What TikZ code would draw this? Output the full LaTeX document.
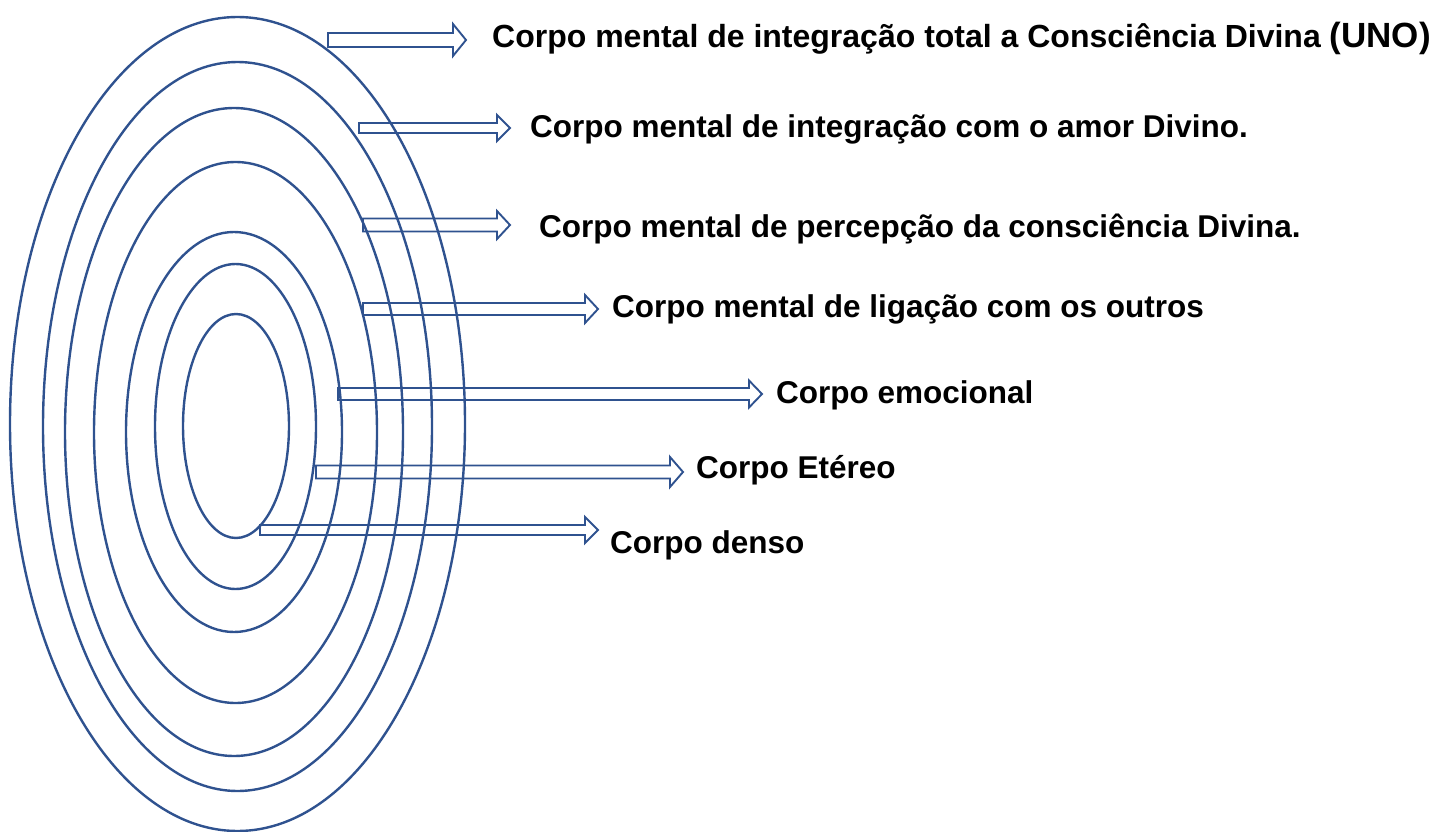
\documentclass[tikz,border=0pt]{standalone}
\usepackage{fontspec}
\setmainfont{Liberation Sans}
\usetikzlibrary{calc}
\definecolor{ringblue}{RGB}{47,82,143}
\begin{document}
\begin{tikzpicture}[x=1pt, y=-1pt]
\tikzset{ring/.style={draw=ringblue, line width=2.4pt}}
\tikzset{body/.style={font=\fontsize{31.5}{36}\selectfont\bfseries, inner sep=0pt, anchor=base west}}
\tikzset{blockarrow/.style 2 args={draw=ringblue, line width=1.9pt,
  to path={let \p1=(\tikztostart), \p2=(\tikztotarget) in
  (\x1,\y1+#1) -- (\x2-13pt,\y1+#1) -- (\x2-13pt,\y1+#2) -- (\x2,\y1)
  -- (\x2-13pt,\y1-#2) -- (\x2-13pt,\y1-#1) -- (\x1,\y1-#1) -- cycle}}}
\useasboundingbox (0,0) rectangle (1442,832);
\foreach \cx/\cy/\rx/\ry in {237.5/424/227.5/407, 237.5/426.5/194.5/364.5,
  234/432/169/324, 235.5/432.5/141.5/270.5, 234/432/108/200,
  235.5/426.5/80.5/162.5, 236/426/53/112}
  \draw[ring] (\cx,\cy) ellipse [x radius=\rx pt, y radius=\ry pt];
\coordinate (uno-s) at (328,40);
\coordinate (uno-e) at (466,40);
\coordinate (amor-s) at (359,128);
\coordinate (amor-e) at (510,128);
\coordinate (percepcao-s) at (363,225);
\coordinate (percepcao-e) at (510,225);
\coordinate (ligacao-s) at (363,309);
\coordinate (ligacao-e) at (598,309);
\coordinate (emocional-s) at (338,394);
\coordinate (emocional-e) at (762,394);
\coordinate (etereo-s) at (316,472);
\coordinate (etereo-e) at (683,472);
\coordinate (denso-s) at (260,530);
\coordinate (denso-e) at (598,530);
\draw[blockarrow={7pt}{16pt}] (uno-s) to (uno-e);
\draw[blockarrow={5pt}{13pt}] (amor-s) to (amor-e);
\draw[blockarrow={6.5pt}{14pt}] (percepcao-s) to (percepcao-e);
\draw[blockarrow={6pt}{14pt}] (ligacao-s) to (ligacao-e);
\draw[blockarrow={6pt}{13.5pt}] (emocional-s) to (emocional-e);
\draw[blockarrow={6.5pt}{15pt}] (etereo-s) to (etereo-e);
\draw[blockarrow={5pt}{13pt}] (denso-s) to (denso-e);
\node[body, font=\fontsize{32}{36}\selectfont\bfseries] (uno) at (492,48) {Corpo mental de integração total a Consciência Divina {\fontsize{35}{40}\selectfont(UNO)}};
\node[body] (amor) at (530,138) {Corpo mental de integração com o amor Divino.};
\node[body] (percepcao) at (539,237) {Corpo mental de percepção da consciência Divina.};
\node[body] (ligacao) at (612,317) {Corpo mental de ligação com os outros};
\node[body] (emocional) at (776,403) {Corpo emocional};
\node[body] (etereo) at (696,478) {Corpo Etéreo};
\node[body] (denso) at (610,553) {Corpo denso};
\end{tikzpicture}
\end{document}
